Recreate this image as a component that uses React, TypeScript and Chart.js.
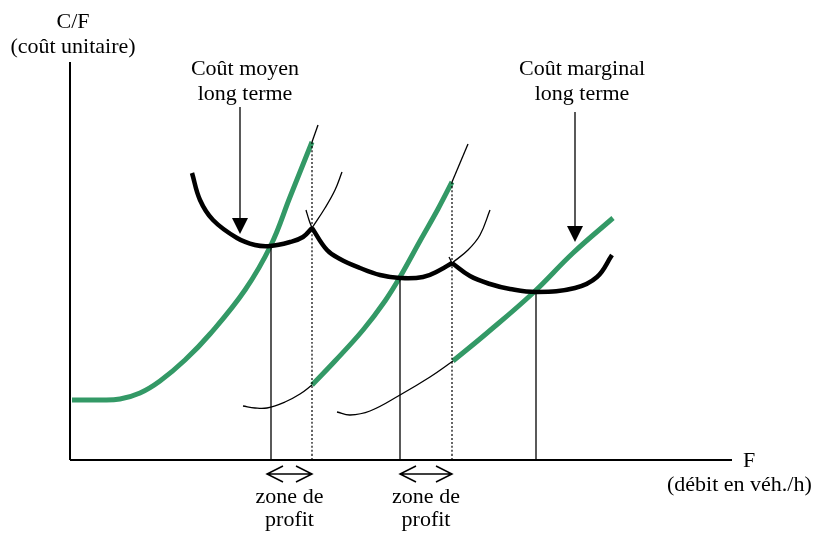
import React, { useEffect, useRef } from "react";
import { Chart, registerables } from "chart.js";

Chart.register(...registerables);

// Conceptual diagram: x = débit (flow), y = coût unitaire (arbitrary units)
const xMax = 662;
const yMax = 398;

// Short-run marginal cost curves (green)
const marginal1: [number, number][] = [[2, 60], [30, 60], [50, 61], [70, 67], [90, 79], [115, 100], [140, 126], [175, 170], [201, 215], [220, 263], [242, 318]];
const marginal2: [number, number][] = [[242, 75], [265, 99], [293, 130], [315, 159], [330, 183], [350, 219], [368, 251], [382, 278]];
const marginal3: [number, number][] = [[383, 99], [417, 127], [463, 167], [503, 207], [543, 242]];

// thin continuations of marginal curves
const marginalTop1: [number, number][] = [[242, 318], [248, 335]];
const marginalTop2: [number, number][] = [[382, 278], [398, 316]];
const marginalLow2: [number, number][] = [[173, 54], [185, 52], [197, 52], [215, 58], [230, 66], [242, 75]];
const marginalLow3: [number, number][] = [[267, 48], [280, 45], [300, 49], [330, 65], [360, 83], [383, 99]];

// Long-run average cost envelope (thick black), three scallops
const envelope1: [number, number][] = [[122, 287], [130, 260], [143, 240], [167, 222], [185, 215], [200, 214], [220, 218], [233, 223], [242, 232]];
const envelope2: [number, number][] = [[242, 232], [257, 210], [270, 201], [290, 192], [310, 185], [330, 182], [353, 183], [370, 190], [382, 197]];
const envelope3: [number, number][] = [[382, 197], [400, 184], [420, 176], [440, 171], [467, 168], [505, 172], [527, 183], [542, 205]];

// thin short-run average cost continuations
const avgThin1: [number, number][] = [[242, 232], [255, 252], [265, 270], [272, 288]];
const avgThin2a: [number, number][] = [[236, 250], [239, 240], [242, 232]];
const avgThin2b: [number, number][] = [[382, 197], [398, 210], [410, 225], [420, 250]];
const avgThin3: [number, number][] = [[379, 203], [382, 197]];

// equilibrium drop lines
const solidDropX = [201, 330, 466];
const solidDropY = [215, 182, 168];
const dottedDropX = [242, 382];
const dottedDropY = [318, 278];

const GREEN = "#339966";
const FONT = '22px "Liberation Serif", "Times New Roman", serif';

const pts = (a: [number, number][]) => a.map(([x, y]) => ({ x, y }));

export default function App() {
  const ref = useRef<HTMLCanvasElement>(null);

  useEffect(() => {
    if (!ref.current) return;
    const line = (data: [number, number][], color: string, width: number, dash: number[] = []) => ({
      data: pts(data),
      borderColor: color,
      borderWidth: width,
      borderDash: dash,
      pointRadius: 0,
      fill: false,
      tension: 0.4,
      borderCapStyle: "butt" as const,
      borderJoinStyle: "round" as const,
      clip: false as any,
    });

    const datasets: any[] = [
      line([[0, 0], [0, yMax]], "#000", 2),
      line([[0, 0], [xMax, 0]], "#000", 2),
    ];
    solidDropX.forEach((x, i) => datasets.push(line([[x, 0], [x, solidDropY[i]]], "#000", 1.3)));
    dottedDropX.forEach((x, i) => datasets.push(line([[x, 0], [x, dottedDropY[i]]], "#000", 1.2, [2, 2])));
    [marginalTop1, marginalTop2, marginalLow2, marginalLow3, avgThin1, avgThin2a, avgThin2b, avgThin3].forEach((a) =>
      datasets.push(line(a, "#000", 1.3))
    );
    [envelope1, envelope2, envelope3].forEach((a) => datasets.push(line(a, "#000", 4.5)));
    [marginal1, marginal2, marginal3].forEach((a) => datasets.push(line(a, GREEN, 5)));

    const annotations = {
      id: "annotations",
      afterDatasetsDraw(chart: any) {
        const ctx = chart.ctx as CanvasRenderingContext2D;
        const xs = chart.scales.x;
        const ys = chart.scales.y;
        const px = (v: number) => xs.getPixelForValue(v);
        const py = (v: number) => ys.getPixelForValue(v);
        ctx.save();
        ctx.fillStyle = "#000";
        ctx.strokeStyle = "#000";
        ctx.font = FONT;
        ctx.textBaseline = "alphabetic";

        const text = (t: string, x: number, y: number, align: CanvasTextAlign = "center") => {
          ctx.textAlign = align;
          ctx.fillText(t, x, y);
        };
        const left = chart.chartArea.left;
        const bottom = chart.chartArea.bottom;
        // axis titles
        text("C/F", left + 3, 28);
        text("(coût unitaire)", left + 3, 53);
        text("F", chart.chartArea.right + 11, bottom + 7, "left");
        text("(débit en véh./h)", chart.chartArea.right - 65, bottom + 31, "left");
        // curve labels
        text("Coût moyen", px(175), 75);
        text("long terme", px(175), 100);
        text("Coût marginal", px(512), 75);
        text("long terme", px(512), 100);

        // down arrows
        const downArrow = (x: number, yFrom: number, yTip: number) => {
          const X = px(x);
          ctx.lineWidth = 1.3;
          ctx.beginPath();
          ctx.moveTo(X, py(yFrom));
          ctx.lineTo(X, py(yTip) - 10);
          ctx.stroke();
          ctx.beginPath();
          ctx.moveTo(X - 8, py(yTip) - 16);
          ctx.lineTo(X + 8, py(yTip) - 16);
          ctx.lineTo(X, py(yTip));
          ctx.closePath();
          ctx.fill();
        };
        downArrow(170, 353, 226);
        downArrow(505, 348, 218);

        // profit zones
        const dbl = (x1: number, x2: number) => {
          const y = bottom + 14;
          const a = px(x1), b = px(x2);
          ctx.lineWidth = 1.5;
          ctx.beginPath();
          ctx.moveTo(a, y);
          ctx.lineTo(b, y);
          ctx.moveTo(a + 16, y - 8);
          ctx.lineTo(a, y);
          ctx.lineTo(a + 16, y + 8);
          ctx.moveTo(b - 16, y - 8);
          ctx.lineTo(b, y);
          ctx.lineTo(b - 16, y + 8);
          ctx.stroke();
          const c = (a + b) / 2;
          text("zone de", c, bottom + 43);
          text("profit", c, bottom + 66);
        };
        dbl(dottedDropX[0] - 45, dottedDropX[0]);
        dbl(solidDropX[1], dottedDropX[1]);
        ctx.restore();
      },
    };

    const chart = new Chart(ref.current, {
      type: "line",
      data: { datasets },
      options: {
        animation: false,
        responsive: false,
        devicePixelRatio: 1,
        layout: { padding: { left: 70, top: 62, right: 823 - 732, bottom: 534 - 460 } },
        plugins: { legend: { display: false }, tooltip: { enabled: false } },
        scales: {
          x: { type: "linear", min: 0, max: xMax, display: false },
          y: { type: "linear", min: 0, max: yMax, display: false },
        },
      },
      plugins: [annotations],
    });
    return () => chart.destroy();
  }, []);

  return (
    <div style={{ position: "absolute", left: 0, top: 0, width: 823, height: 534, background: "#fff" }}>
      <canvas ref={ref} width={823} height={534} />
    </div>
  );
}
